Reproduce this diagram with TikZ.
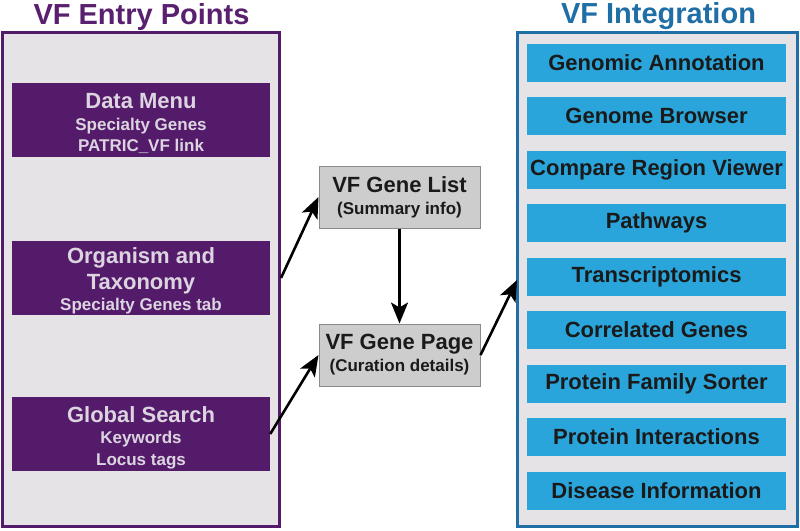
\documentclass[tikz,border=0pt]{standalone}
\usepackage{fontspec}
\setmainfont{Liberation Sans}
\usetikzlibrary{arrows.meta}
\definecolor{vpurple}{HTML}{541B6B}
\definecolor{vtitle}{HTML}{5A2070}
\definecolor{vgrey}{HTML}{E5E3E5}
\definecolor{vbluebox}{HTML}{2AA5DB}
\definecolor{vblueline}{HTML}{1F6FA6}
\definecolor{vlighttext}{HTML}{DCD5E0}
\definecolor{vgraybox}{HTML}{CDCDCD}
\definecolor{vgrayline}{HTML}{8A8A8A}
\definecolor{vdark}{HTML}{1A1A1A}
\tikzset{
  panel/.style={line width=3pt, fill=vgrey},
  entrybox/.style={fill=vpurple, minimum width=258pt, minimum height=74pt, inner sep=0pt},
  entrytext/.style={text=vlighttext, inner sep=0pt, align=center, font=\fontsize{17}{21.5}\selectfont\bfseries},
  genebox/.style={fill=vgraybox, draw=vgrayline, line width=1pt, text=vdark, minimum width=161pt,
    minimum height=62pt, inner sep=0pt, align=center, font=\fontsize{17}{22}\selectfont\bfseries},
  intbox/.style={fill=vbluebox, text=vdark, minimum width=259pt, minimum height=38pt,
    inner sep=0pt, font=\fontsize{22}{24}\selectfont\bfseries},
  paneltitle/.style={anchor=base, inner sep=0pt, font=\fontsize{29}{32}\selectfont\bfseries},
  conn/.style={line width=2.6pt, black, -{Stealth[length=21pt,width=17pt,inset=5pt]}},
}
\newcommand{\bigline}[1]{{\fontsize{22}{24}\selectfont #1}}
\begin{document}
\begin{tikzpicture}[x=1pt,y=-1pt]
\useasboundingbox (0,0) rectangle (800,530);
\fill[white] (0,0) rectangle (800,530);
% left panel
\draw[panel, draw=vpurple] (2.5,32) rectangle (279.5,526);
\node[paneltitle, text=vtitle] (ltitle) at (141.5,24.5) {VF Entry Points};
\node[entrybox] (datamenu) at (141,120) {};
\node[entrytext] (datamenutext) at ([yshift=-3.5pt]datamenu.center) {\bigline{Data Menu}\\Specialty Genes\\PATRIC\_VF link};
\node[entrybox] (organism) at (141,278) {};
\node[entrytext] (organismtext) at ([yshift=-3pt]organism.center) {\bigline{Organism and}\\[4pt]\bigline{Taxonomy}\\Specialty Genes tab};
\node[entrybox] (global) at (141,434) {};
\node[entrytext] (globaltext) at ([yshift=-3.5pt]global.center) {\bigline{Global Search}\\Keywords\\Locus tags};
% right panel
\draw[panel, draw=vblueline] (517,32) rectangle (797,526);
\node[paneltitle, text=vblueline] (rtitle) at (658.5,23.5) {VF Integration};
\foreach \t [count=\i from 0] in {Genomic Annotation, Genome Browser, Compare Region Viewer, Pathways, Transcriptomics, Correlated Genes, Protein Family Sorter, Protein Interactions, Disease Information}{
  \node[intbox] (int\i) at (656.5,{62.5+53.5*\i}) {\t};
}
% middle
\node[genebox] (list) at (399.5,197) {\bigline{VF Gene List}\\(Summary info)};
\node[genebox] (page) at (399.5,355) {\bigline{VF Gene Page}\\(Curation details)};
\coordinate (orgout) at (281,278);
\coordinate (rin) at (517,280);
\draw[conn] (orgout) -- (list.west);
\draw[conn] (global.east) -- (page.west);
\draw[conn] (list.south) -- (page.north);
\draw[conn] (page.east) -- (rin);
\end{tikzpicture}
\end{document}
